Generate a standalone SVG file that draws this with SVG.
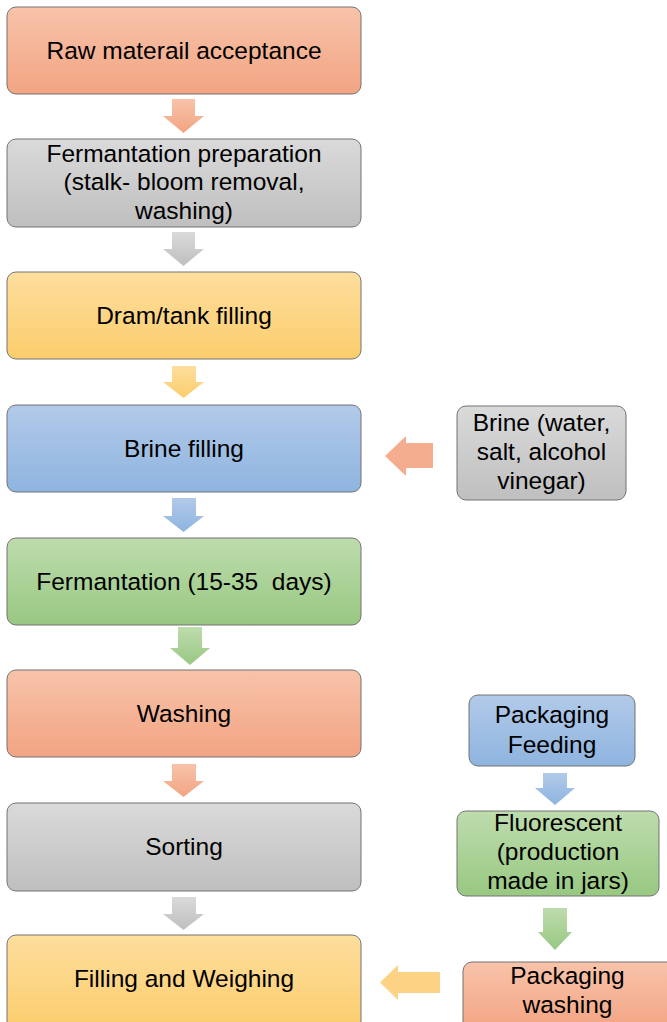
<svg xmlns="http://www.w3.org/2000/svg" width="667" height="1022" viewBox="0 0 667 1022">
<defs>
<linearGradient id="gO" x1="0" y1="0" x2="0" y2="1"><stop offset="0" stop-color="#f8c3aa"/><stop offset="1" stop-color="#f2a482"/></linearGradient>
<linearGradient id="gG" x1="0" y1="0" x2="0" y2="1"><stop offset="0" stop-color="#dadada"/><stop offset="1" stop-color="#bfbfbf"/></linearGradient>
<linearGradient id="gY" x1="0" y1="0" x2="0" y2="1"><stop offset="0" stop-color="#fede9e"/><stop offset="1" stop-color="#fbcd6c"/></linearGradient>
<linearGradient id="gB" x1="0" y1="0" x2="0" y2="1"><stop offset="0" stop-color="#b2cae9"/><stop offset="1" stop-color="#8eb4df"/></linearGradient>
<linearGradient id="gN" x1="0" y1="0" x2="0" y2="1"><stop offset="0" stop-color="#bedcad"/><stop offset="1" stop-color="#98c882"/></linearGradient>
</defs>
<style>
.box{stroke:#737373;stroke-width:1}
.t{font-family:"Liberation Sans",Arial,sans-serif;font-size:24.5px;fill:#000;text-anchor:middle}
</style>
<g id="connectors">
<path d="M172,99 H195 V116 H204 L183.5,133 L163,116 H172 Z" fill="url(#gO)"/>
<path d="M172,232 H195 V249 H204 L183.5,266 L163,249 H172 Z" fill="url(#gG)"/>
<path d="M172,366 H196 V382 H204 L183.5,398 L163,382 H172 Z" fill="url(#gY)"/>
<path d="M172,498 H196 V516 H204 L183.5,532 L163,516 H172 Z" fill="url(#gB)"/>
<path d="M178,627 H202 V648 H210 L190,665 L170,648 H178 Z" fill="url(#gN)"/>
<path d="M172,764 H196 V781 H204 L183.5,797 L163,781 H172 Z" fill="url(#gO)"/>
<path d="M172,897 H196 V914 H204 L183.5,930 L163,914 H172 Z" fill="url(#gG)"/>
<path d="M433,443 V468 H406 V476 L385,456 L406,436 V443 Z" fill="#f4ad8f"/>
<path d="M440,972 V993 H398 V1000 L380,982.5 L398,965 V972 Z" fill="#fcd384"/>
<path d="M543,773 H567 V788 H575 L555,805 L535,788 H543 Z" fill="url(#gB)"/>
<path d="M543,908 H567 V932 H572 L555,950 L538,932 H543 Z" fill="url(#gN)"/>
</g>
<g id="n1"><rect class="box" x="7" y="7" width="354" height="87" rx="9" fill="url(#gO)"/><text class="t" x="184" y="58.5">Raw materail acceptance</text></g>
<g id="n2"><rect class="box" x="7" y="139" width="354" height="88" rx="9" fill="url(#gG)"/><text class="t" x="184" y="161.5">Fermantation preparation</text><text class="t" x="184" y="190">(stalk- bloom removal,</text><text class="t" x="184" y="218.5">washing)</text></g>
<g id="n3"><rect class="box" x="7" y="272" width="354" height="87" rx="9" fill="url(#gY)"/><text class="t" x="184" y="324">Dram/tank filling</text></g>
<g id="n4"><rect class="box" x="7" y="405" width="354" height="87" rx="9" fill="url(#gB)"/><text class="t" x="184" y="457">Brine filling</text></g>
<g id="n5"><rect class="box" x="7" y="538" width="354" height="87" rx="9" fill="url(#gN)"/><text class="t" x="184" y="590" xml:space="preserve">Fermantation (15-35  days)</text></g>
<g id="n6"><rect class="box" x="7" y="670" width="354" height="87" rx="9" fill="url(#gO)"/><text class="t" x="184" y="722">Washing</text></g>
<g id="n7"><rect class="box" x="7" y="803" width="354" height="88" rx="9" fill="url(#gG)"/><text class="t" x="184" y="855">Sorting</text></g>
<g id="n8"><rect class="box" x="7" y="935" width="354" height="95" rx="9" fill="url(#gY)"/><text class="t" x="184" y="987">Filling and Weighing</text></g>
<g id="r1"><rect class="box" x="457" y="406" width="169" height="94" rx="9" fill="url(#gG)"/><text class="t" x="541.5" y="430.5">Brine (water,</text><text class="t" x="541.5" y="460">salt, alcohol</text><text class="t" x="541.5" y="489">vinegar)</text></g>
<g id="r2"><rect class="box" x="469" y="695" width="166" height="71" rx="9" fill="url(#gB)"/><text class="t" x="552" y="723">Packaging</text><text class="t" x="552" y="752.5">Feeding</text></g>
<g id="r3"><rect class="box" x="457" y="811" width="202" height="85" rx="9" fill="url(#gN)"/><text class="t" x="558" y="831">Fluorescent</text><text class="t" x="558" y="860">(production</text><text class="t" x="558" y="889">made in jars)</text></g>
<g id="r4"><rect class="box" x="463" y="962" width="214" height="70" rx="9" fill="url(#gO)"/><text class="t" x="567.5" y="984">Packaging</text><text class="t" x="567.5" y="1013">washing</text></g>
</svg>
